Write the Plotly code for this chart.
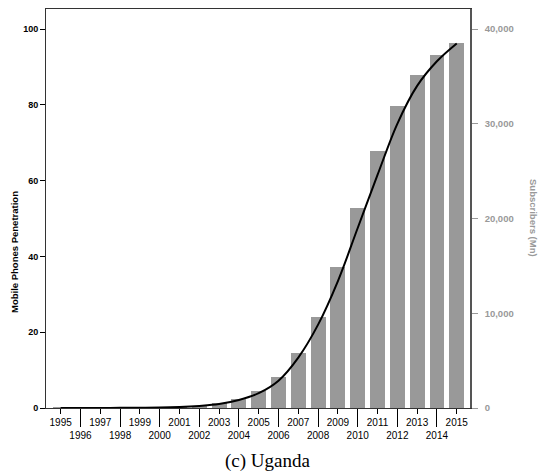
import plotly.graph_objects as go

years = list(range(1995, 2016))
# Bar heights read in left-axis units (0-100), shown on right axis (x400 -> subscribers)
bar_pct = [0.05, 0.05, 0.08, 0.1, 0.12, 0.15, 0.2, 0.3, 1.2, 2.5, 4.6, 8.2,
           14.4, 24.1, 37.3, 52.7, 67.7, 79.7, 88.0, 93.2, 96.2]
subscribers = [round(v * 400) for v in bar_pct]
# Smoothed penetration curve
penetration = [0.0, 0.0, 0.02, 0.04, 0.06, 0.1, 0.25, 0.55, 1.05, 2.1, 3.9, 7.2,
               13.3, 22.0, 33.5, 47.5, 61.5, 75.0, 85.0, 91.5, 96.2]
left_ticks = [0, 20, 40, 60, 80, 100]
right_ticks = [0, 10000, 20000, 30000, 40000]

tick_text = [str(y) if y % 2 == 1 else "<br>" + str(y) for y in years]
even_years = [y for y in years if y % 2 == 0]

FONT = "Liberation Sans, Arial, sans-serif"
xr = [1994.26, 2015.67]

fig = go.Figure()
fig.add_trace(go.Bar(x=years, y=subscribers, yaxis="y", width=0.75,
                     marker=dict(color="#999999", line=dict(width=0)),
                     showlegend=False))
fig.add_trace(go.Scatter(x=years, y=penetration, mode="lines", yaxis="y2",
                         line=dict(color="black", width=2, shape="spline", smoothing=1),
                         showlegend=False))
# invisible trace so the long-tick overlay axis renders
fig.add_trace(go.Scatter(x=[years[0]], y=[0], xaxis="x2", yaxis="y", mode="markers",
                         marker=dict(opacity=0), showlegend=False, hoverinfo="skip"))

fig.update_layout(
    width=540, height=476,
    margin=dict(l=46, r=70, t=9, b=68),
    plot_bgcolor="white", paper_bgcolor="white",
    font=dict(family=FONT, size=10, color="black"),
    xaxis=dict(range=xr, tickvals=years, ticktext=tick_text, ticks="outside",
               tickangle=0, automargin=False,
               ticklen=5, tickcolor="black", showline=True, linecolor="#333333",
               linewidth=1, mirror=True, showgrid=False, zeroline=False,
               tickfont=dict(size=10, color="black", family=FONT)),
    xaxis2=dict(range=xr, overlaying="x", anchor="y", side="bottom", automargin=False,
                tickvals=even_years, ticks="outside", ticklen=18, tickcolor="black",
                showticklabels=False, showline=False, showgrid=False, zeroline=False),
    yaxis=dict(range=[0, 42120], side="right", tickvals=right_ticks, automargin=False,
               tickformat=",", ticks="outside", ticklen=6, tickcolor="#999999",
               ticklabelstandoff=5,
               showline=True, linecolor="#555555", linewidth=1.5,
               showgrid=False, zeroline=False,
               tickfont=dict(size=9.5, color="#999999", family=FONT, weight="bold")),
    yaxis2=dict(range=[0, 105.3], overlaying="y", side="left", tickvals=left_ticks,
                automargin=False, ticks="outside", ticklen=5,
                tickcolor="black", showline=True, linecolor="#333333", linewidth=1,
                showgrid=False, zeroline=False,
                tickfont=dict(size=9, color="black", family=FONT, weight="bold")),
    bargap=0,
)

fig.add_annotation(text="Mobile Phones Penetration", xref="paper", yref="paper",
                   x=-32/424, y=(408-252)/399, textangle=-90, showarrow=False,
                   font=dict(size=9.5, family=FONT, weight="bold", color="black"),
                   xanchor="center", yanchor="middle")
fig.add_annotation(text="Subscribers (Mn)", xref="paper", yref="paper",
                   x=(534-46)/424, y=(408-218)/399, textangle=90, showarrow=False,
                   font=dict(size=9.5, family=FONT, weight="bold", color="#999999"),
                   xanchor="center", yanchor="middle")
fig.add_annotation(text="(c) Uganda", xref="paper", yref="paper",
                   x=(267-46)/424, y=-(461-408)/399, showarrow=False,
                   font=dict(size=19, family="Liberation Serif, Times New Roman, serif",
                             color="black"),
                   xanchor="center", yanchor="middle")

fig.write_html("out.html", config={"displayModeBar": False},
               post_script="document.body.style.margin='0';document.body.style.overflow='hidden';")
